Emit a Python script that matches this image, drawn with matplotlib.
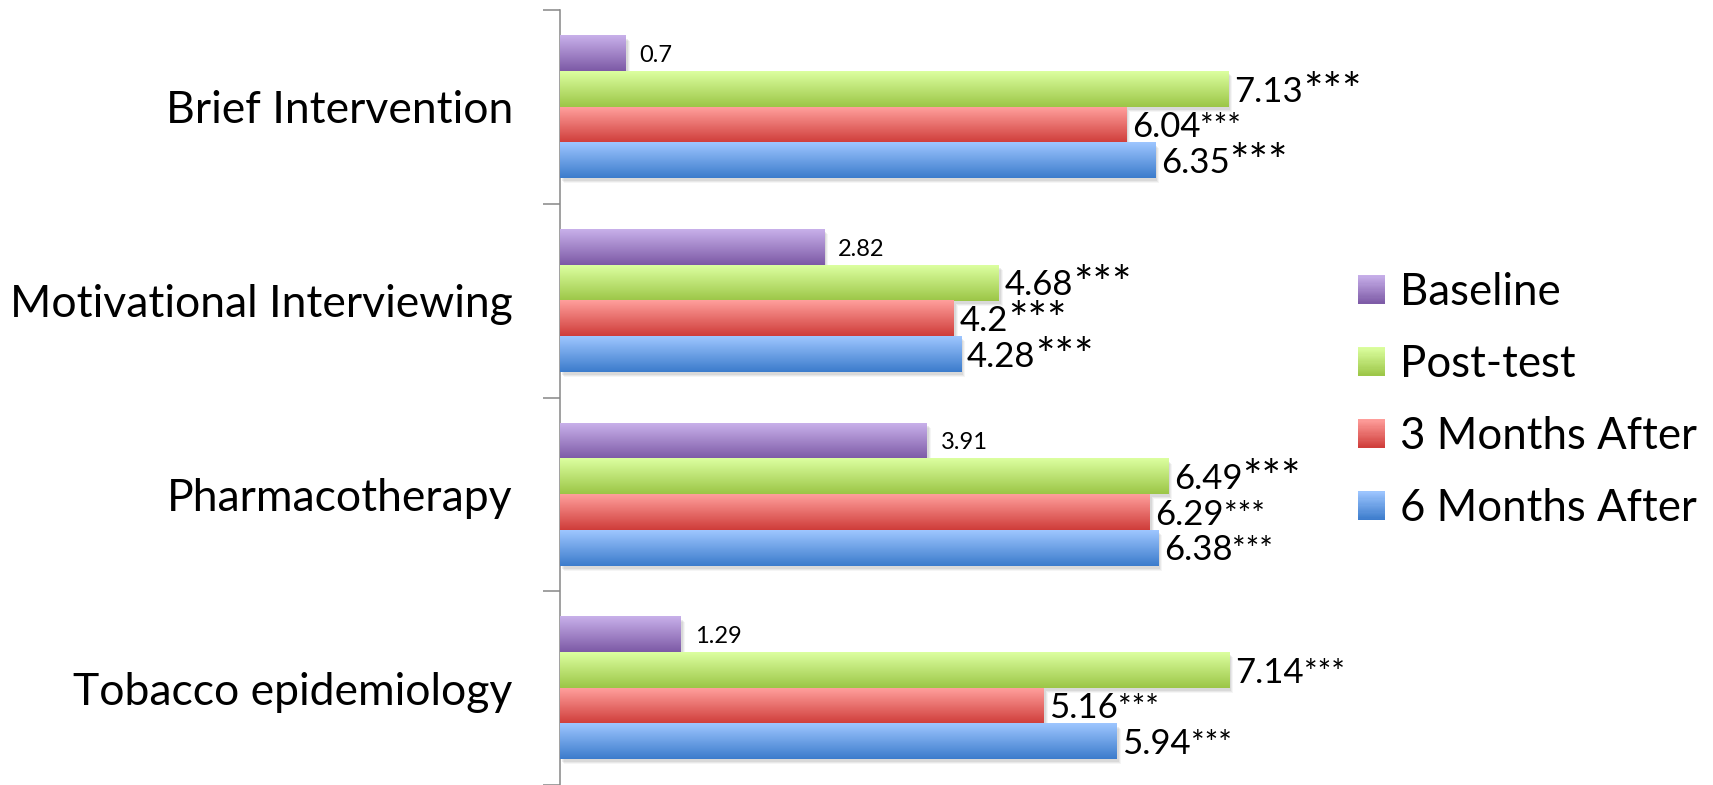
import numpy as np
import matplotlib.pyplot as plt
from matplotlib.patches import Rectangle
from matplotlib.legend_handler import HandlerBase
from matplotlib.colors import LinearSegmentedColormap
import matplotlib.transforms as mtransforms

plt.rcParams['font.family'] = ['Lato', 'DejaVu Sans']

categories = ['Brief Intervention', 'Motivational Interviewing',
              'Pharmacotherapy', 'Tobacco epidemiology']
series_names = ['Baseline', 'Post-test', '3 Months After', '6 Months After']

baseline = [0.7, 2.82, 3.91, 1.29]
post_test = [7.13, 4.68, 6.49, 7.14]
after_3m = [6.04, 4.2, 6.29, 5.16]
after_6m = [6.35, 4.28, 6.38, 5.94]

# significance markers: True -> large asterisks, False -> small ones
post_test_big = [True, True, True, False]
after_3m_big = [False, True, False, False]
after_6m_big = [True, True, False, False]

series = [baseline, post_test, after_3m, after_6m]
stars_big = [None, post_test_big, after_3m_big, after_6m_big]

# top / bottom colour of each gradient
grad_colors = [('#c8b0ea', '#7d5aa6'),
               ('#dcffa0', '#9cc647'),
               ('#ff9f9c', '#cf3d3a'),
               ('#9ec6ff', '#3c7ccc')]
cmaps = [LinearSegmentedColormap.from_list('g%d' % i, [top, bot])
         for i, (top, bot) in enumerate(grad_colors)]

fig = plt.figure(figsize=(17.13, 7.85), dpi=100)
ax = fig.add_axes([560 / 1713, 0, 750 / 1713, 775 / 785])

bar_h = 0.184
ypos = np.arange(len(categories))
grad = np.linspace(0, 1, 64).reshape(-1, 1)

for j, vals in enumerate(series):
    yy = ypos + (j - 1.5) * bar_h
    bars = ax.barh(yy, vals, height=bar_h, color='none', linewidth=0, zorder=3)
    for b in bars:
        x0, y0 = b.get_x(), b.get_y()
        w, h = b.get_width(), b.get_height()
        # soft drop shadow
        for dx, dy, a in [(4, -5, 0.06), (3, -4, 0.08), (2, -3, 0.1)]:
            sh = mtransforms.offset_copy(ax.transData, fig=fig, x=dx, y=dy, units='dots')
            ax.add_patch(Rectangle((x0, y0), w, h, facecolor='#555555', alpha=a,
                                   linewidth=0, transform=sh, zorder=1))
        ax.imshow(grad, cmap=cmaps[j], extent=(x0, x0 + w, y0 + h, y0),
                  aspect='auto', interpolation='bicubic', zorder=3 + j * 0.01)

    # value labels
    for i, v in enumerate(vals):
        if j == 0:
            fs = 17
            ax.annotate(str(v), xy=(v, yy[i]), xytext=(10, -0.36 * fs),
                        textcoords='offset points', va='baseline', ha='left',
                        fontsize=fs, color='black', zorder=5)
        else:
            fs = 25
            t = ax.annotate(str(v), xy=(v, yy[i]), xytext=(4, -0.36 * fs),
                            textcoords='offset points', va='baseline', ha='left',
                            fontsize=fs, color='black', zorder=5)
            sfs = 33 if stars_big[j][i] else 23
            ax.annotate('***', xy=(1, yy[i]), xycoords=(t, 'data'),
                        xytext=(0, -0.36 * fs + (-3 if stars_big[j][i] else 0)),
                        textcoords='offset points',
                        va='baseline', ha='left', fontsize=sfs, color='black',
                        zorder=5)

ax.set_xlim(0, 8)
ax.set_ylim(3.5, -0.5)

ax.set_yticks(ypos)
ax.set_yticklabels(categories, fontsize=32)
ax.tick_params(axis='y', which='major', length=0, pad=34)
ax.set_yticks(np.arange(-0.5, 4.0, 1.0), minor=True)
ax.tick_params(axis='y', which='minor', length=12, width=1.1, color='#868686',
               direction='out')
ax.set_xticks([])
for s in ['top', 'right', 'bottom']:
    ax.spines[s].set_visible(False)
ax.spines['left'].set_color('#868686')
ax.spines['left'].set_linewidth(1.1)


class GradientHandler(HandlerBase):
    def __init__(self, cmap):
        super().__init__()
        self.cmap = cmap

    def create_artists(self, legend, orig_handle, xdescent, ydescent,
                       width, height, fontsize, trans):
        n = 24
        arts = []
        for k in range(n):
            c = self.cmap(1 - (k + 0.5) / n)
            arts.append(Rectangle((-xdescent, -ydescent + height * k / n),
                                  width, height / n + 0.01, facecolor=c,
                                  edgecolor='none', transform=trans))
        return arts


handles = [Rectangle((0, 0), 1, 1) for _ in series_names]
hmap = {h: GradientHandler(cm) for h, cm in zip(handles, cmaps)}
fig.legend(handles, series_names, handler_map=hmap, loc='center left',
           bbox_to_anchor=(1358 / 1713, 0.49), frameon=False, fontsize=31.5,
           handlelength=0.62, handleheight=0.62, handletextpad=0.35,
           labelspacing=0.71, borderpad=0, borderaxespad=0)

fig.savefig('out.png', dpi=100)
